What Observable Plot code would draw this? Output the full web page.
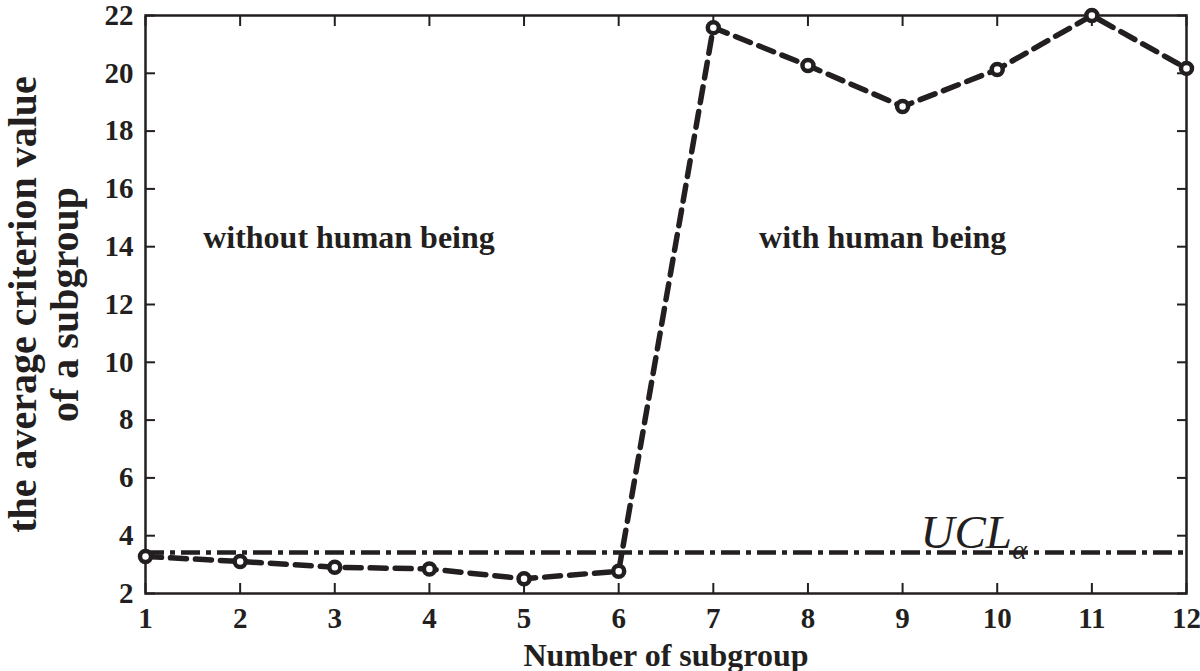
<!DOCTYPE html>
<html>
<head>
<meta charset="utf-8">
<script src="https://cdn.jsdelivr.net/npm/d3@7"></script>
<script src="https://cdn.jsdelivr.net/npm/@observablehq/plot@0.6"></script>
<style>
  html, body { margin: 0; padding: 0; background: #fff; }
  svg { display: block; }
</style>
</head>
<body>
<div id="chart"></div>
<script>
// ---- data ----
const subgroups = [1, 2, 3, 4, 5, 6, 7, 8, 9, 10, 11, 12];
const avgCriterion = [3.28, 3.11, 2.91, 2.85, 2.51, 2.77, 21.58, 20.27, 18.85, 20.13, 22.0, 20.17];
const uclValue = 3.42;
const xTicks = [1, 2, 3, 4, 5, 6, 7, 8, 9, 10, 11, 12];
const yTicks = [2, 4, 6, 8, 10, 12, 14, 16, 18, 20, 22];
const regionLabels = ["without human being", "with human being"];
const regionLabelX = [3.15, 8.79];
const regionLabelY = [13.97, 13.97];
const uclLabel = ["UCL"];
const uclSub = ["α"];

const points = subgroups.map((s, i) => ({x: s, y: avgCriterion[i]}));
const regions = regionLabels.map((t, i) => ({text: t, x: regionLabelX[i], y: regionLabelY[i]}));

const ink = "#231f20";
const serif = "'Liberation Serif', 'Times New Roman', serif";

const chart = Plot.plot({
  width: 1200,
  height: 671,
  marginLeft: 145,
  marginRight: 14,
  marginTop: 15,
  marginBottom: 78,
  style: {fontFamily: serif, color: ink, background: "#fff", overflow: "visible"},
  x: {domain: [1, 12], ticks: xTicks},
  y: {domain: [2, 22], ticks: yTicks},
  marks: [
    // inward ticks on all four sides
    Plot.axisX(xTicks, {anchor: "bottom", tickSize: -10, fill: null, label: null, strokeWidth: 2}),
    Plot.axisX(xTicks, {anchor: "top", tickSize: -10, fill: null, label: null, strokeWidth: 2}),
    Plot.axisY(yTicks, {anchor: "left", tickSize: -10, fill: null, label: null, strokeWidth: 2}),
    Plot.axisY(yTicks, {anchor: "right", tickSize: -10, fill: null, label: null, strokeWidth: 2}),
    // tick labels
    Plot.text(xTicks, {x: d => d, frameAnchor: "bottom", dy: 14, text: d => String(d), lineAnchor: "top", textAnchor: "middle", fontSize: 29, fontWeight: "bold", fill: ink}),
    Plot.text(yTicks, {y: d => d, frameAnchor: "left", dx: -12, text: d => String(d), lineAnchor: "middle", textAnchor: "end", fontSize: 29, fontWeight: "bold", fill: ink}),
    Plot.frame({stroke: ink, strokeWidth: 2.5}),
    // UCL line
    Plot.ruleY([uclValue], {stroke: ink, strokeWidth: 4.5, strokeDasharray: "19,6,5,6"}),
    // data line + markers
    Plot.line(points, {x: "x", y: "y", stroke: ink, strokeWidth: 5.5, strokeDasharray: "16,9"}),
    Plot.dot(points, {x: "x", y: "y", r: 5.5, stroke: ink, strokeWidth: 4.5, fill: "#fff"}),
    // region annotations
    Plot.text(regions, {x: "x", y: "y", text: "text", fontSize: 32, fontWeight: "bold", lineAnchor: "bottom", fill: ink}),
    // UCL label
    Plot.text(uclLabel, {x: 9.19, y: 3.59, text: d => d, fontSize: 47, fontStyle: "italic", textAnchor: "start", lineAnchor: "bottom", fill: ink}),
    Plot.text(uclSub, {x: 10.16, y: 3.18, text: d => d, fontSize: 28, fontStyle: "italic", textAnchor: "start", lineAnchor: "bottom", fill: ink}),
    // axis titles
    Plot.text(["Number of subgroup"], {frameAnchor: "bottom", dy: 72, text: d => d, fontSize: 32, fontWeight: "bold", lineAnchor: "bottom", textAnchor: "middle", fill: ink}),
    Plot.text(["the average criterion value\nof a subgroup"], {frameAnchor: "left", dx: -102, rotate: -90, text: d => d, fontSize: 40, lineHeight: 1.06, fontWeight: "bold", lineAnchor: "middle", textAnchor: "middle", fill: ink})
  ]
});
document.getElementById("chart").appendChild(chart);
</script>
</body>
</html>
